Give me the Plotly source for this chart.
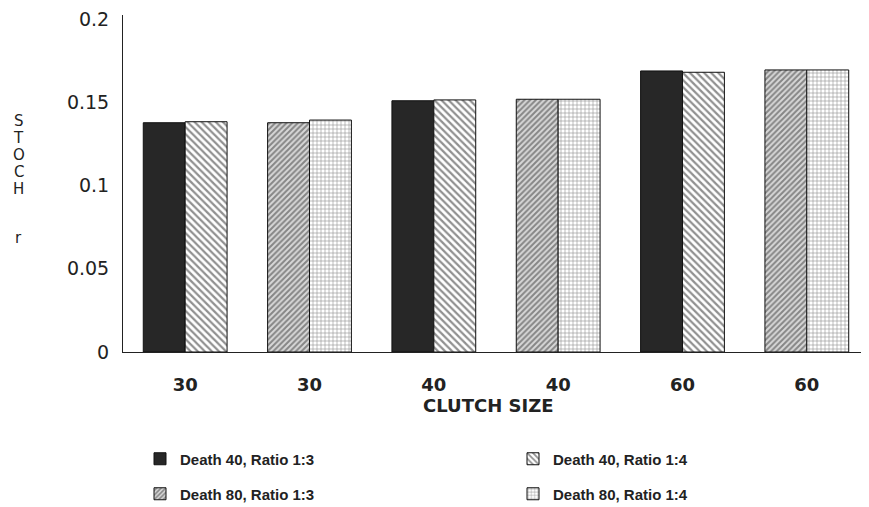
import plotly.graph_objects as go

categories = ["30", "30", "40", "40", "60", "60"]
positions = [0, 1, 2, 3, 4, 5]
death40_r13 = [0.1377, None, 0.1509, None, 0.1688, None]
death40_r14 = [0.1383, None, 0.1514, None, 0.1680, None]
death80_r13 = [None, 0.1377, None, 0.1518, None, 0.1694]
death80_r14 = [None, 0.1393, None, 0.1518, None, 0.1694]
y_ticks = [0, 0.05, 0.1, 0.15, 0.2]
y_ticktext = ["0", "0.05", "0.1", "0.15", "0.2"]
y_title_letters = ["S", "T", "O", "C", "H", "r"]

W = 0.337
FW, FH = 861, 499  # page body has an 8px margin
FONT = "DejaVu Sans, Verdana, sans-serif"
LFONT = "Liberation Sans, Arial, sans-serif"

fig = go.Figure()
series = [
    ("Death 40, Ratio 1:3", death40_r13, -W, dict(color="#272727", line=dict(color="#111", width=1)), "legend"),
    ("Death 40, Ratio 1:4", death40_r14, 0, dict(color="white", line=dict(color="#111", width=1),
        pattern=dict(shape="\\", fgcolor="#222", bgcolor="white", size=5, solidity=0.45)), "legend2"),
    ("Death 80, Ratio 1:3", death80_r13, -W, dict(color="white", line=dict(color="#111", width=1),
        pattern=dict(shape="/", fgcolor="#333", bgcolor="#d8d8d8", size=4, solidity=0.5)), "legend3"),
    ("Death 80, Ratio 1:4", death80_r14, 0, dict(color="white", line=dict(color="#111", width=1),
        pattern=dict(shape="+", fgcolor="#333", bgcolor="white", size=4, solidity=0.3)), "legend4"),
]
for name, vals, off, marker, lg in series:
    fig.add_trace(go.Bar(x=positions, y=vals, name=name, offset=off, width=W,
                         marker=marker, legend=lg))

legend_common = dict(orientation="h", xref="container", yref="container",
                     xanchor="left", yanchor="middle",
                     font=dict(family=LFONT, size=15, color="#222", weight="bold"),
                     bgcolor="rgba(0,0,0,0)", itemclick=False, itemdoubleclick=False)

col_x = [132 / FW, 505 / FW]
row_y = [1 - 451 / FH, 1 - 486 / FH]

PH = 337  # plot height in px (axis top at page y=15, zero at page y=352)
# vertical stacked y-axis title letters
letter_y = [121, 138, 155, 172, 189, 238]
annotations = [
    dict(text=ch, xref="paper", yref="paper", x=(19 - 123) / 746, y=(352 - py) / PH,
         showarrow=False, xanchor="center", yanchor="middle",
         font=dict(family=FONT, size=15, color="#222"))
    for ch, py in zip(y_title_letters, letter_y)
]
annotations.append(
    dict(text="CLUTCH SIZE", xref="paper", yref="paper", x=0.489, y=-(405 - 352) / PH,
         xanchor="center", yanchor="middle", showarrow=False,
         font=dict(family=FONT, size=18, color="#222", weight="bold")))

fig.update_layout(
    width=FW, height=FH,
    margin=dict(l=115, r=0, t=7, b=155, autoexpand=False),
    plot_bgcolor="white", paper_bgcolor="white",
    showlegend=True,
    legend=dict(x=col_x[0], y=row_y[0], **legend_common),
    legend2=dict(x=col_x[1], y=row_y[0], **legend_common),
    legend3=dict(x=col_x[0], y=row_y[1], **legend_common),
    legend4=dict(x=col_x[1], y=row_y[1], **legend_common),
    xaxis=dict(range=[-0.5, 5.5], tickvals=positions, ticktext=categories,
               showline=True, linecolor="#222", linewidth=1, showgrid=False, zeroline=False,
               ticks="", ticklabelstandoff=16,
               tickfont=dict(family=FONT, size=18, color="#222", weight="bold")),
    yaxis=dict(range=[0, 0.2024], tickvals=y_ticks, ticktext=y_ticktext,
               showline=True, linecolor="#222", linewidth=1, showgrid=False, zeroline=False,
               ticks="", ticklabelstandoff=9, ticklabeloverflow="allow",
               tickfont=dict(family=FONT, size=19, color="#222")),
    annotations=annotations,
)

fig.write_html("out.html")
